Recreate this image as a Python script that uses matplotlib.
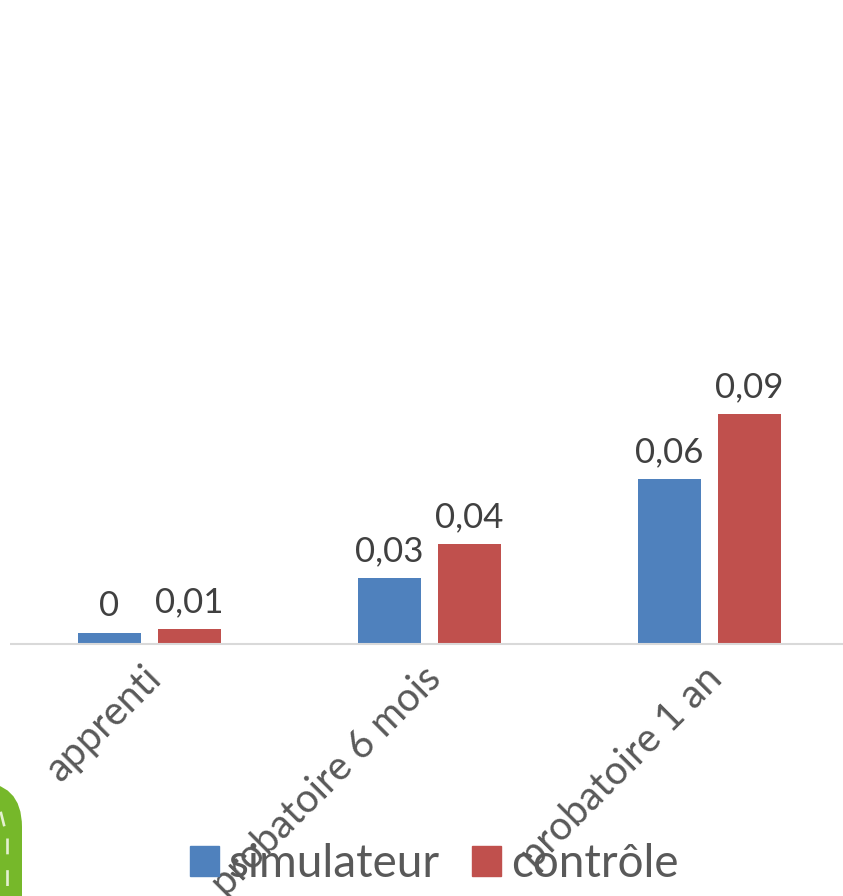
import matplotlib
matplotlib.use('Agg')
import matplotlib.pyplot as plt
from matplotlib.patches import FancyBboxPatch, Patch

plt.rcParams['font.family'] = ['Lato', 'DejaVu Sans']

categories = ['apprenti', 'probatoire 6 mois', 'probatoire 1 an']
simulateur = [0.0043, 0.0258, 0.0646]
controle = [0.0059, 0.0391, 0.09]
simulateur_labels = ['0', '0,03', '0,06']
controle_labels = ['0,01', '0,04', '0,09']

BLUE = '#4F81BD'
RED = '#C0504D'
TEXT = '#595959'
LABEL = '#404040'
GREEN = '#76B82A'
ROAD_LINE = '#E4F0D0'

W, H = 843, 896
CAT_PX = 280
CENTER_PX = 149.5
BASE_PX = 644
UNIT_PX = 2555

fig = plt.figure(figsize=(W / 100, H / 100), dpi=100)
ax = fig.add_axes([0, 0, 1, 1])
ax.set_xlim(-CENTER_PX / CAT_PX, (W - CENTER_PX) / CAT_PX)
ax.set_ylim(-(H - BASE_PX) / UNIT_PX, BASE_PX / UNIT_PX)
ax.axis('off')

bar_w = 63 / CAT_PX
offset = 40 / CAT_PX

for i in range(len(categories)):
    ax.bar(i - offset, simulateur[i], bar_w, color=BLUE)
    ax.bar(i + offset, controle[i], bar_w, color=RED)
    ax.text(i - offset, simulateur[i] + 0.0042, simulateur_labels[i], ha='center', va='bottom',
            fontsize=25, color=LABEL)
    ax.text(i + offset, controle[i] + 0.0042, controle_labels[i], ha='center', va='bottom',
            fontsize=25, color=LABEL)
    ax.text(i - 0.025, -0.006, categories[i], rotation=45, rotation_mode='anchor', ha='right', va='top',
            fontsize=28.5, color=TEXT)

ax.hlines(0, -139.5 / CAT_PX, 2.5, color='#D9D9D9', lw=1.5)

# green road shape bottom left, drawn in pixel coordinates
road_ax = fig.add_axes([0, 0, 1, 1])
road_ax.set_xlim(0, W)
road_ax.set_ylim(H, 0)
road_ax.axis('off')
road_ax.add_patch(FancyBboxPatch((-70, 782), 92, 160, boxstyle='round,pad=0,rounding_size=45',
                                 fc=GREEN, ec='none'))
road_ax.plot([7, 7], [838, 896], color=ROAD_LINE, lw=1.9, dashes=(6, 6))
road_ax.plot([1, 4], [813, 825], color=ROAD_LINE, lw=1.9)

handles = [Patch(color=BLUE, label='simulateur'), Patch(color=RED, label='contrôle')]
fig.legend(handles=handles, loc='lower center', bbox_to_anchor=(0.515, -0.034), ncol=2, frameon=False,
           fontsize=33, labelcolor=TEXT, handlelength=0.63, handleheight=0.63, handletextpad=0.22,
           columnspacing=0.7)

fig.savefig('out.png', dpi=100)
